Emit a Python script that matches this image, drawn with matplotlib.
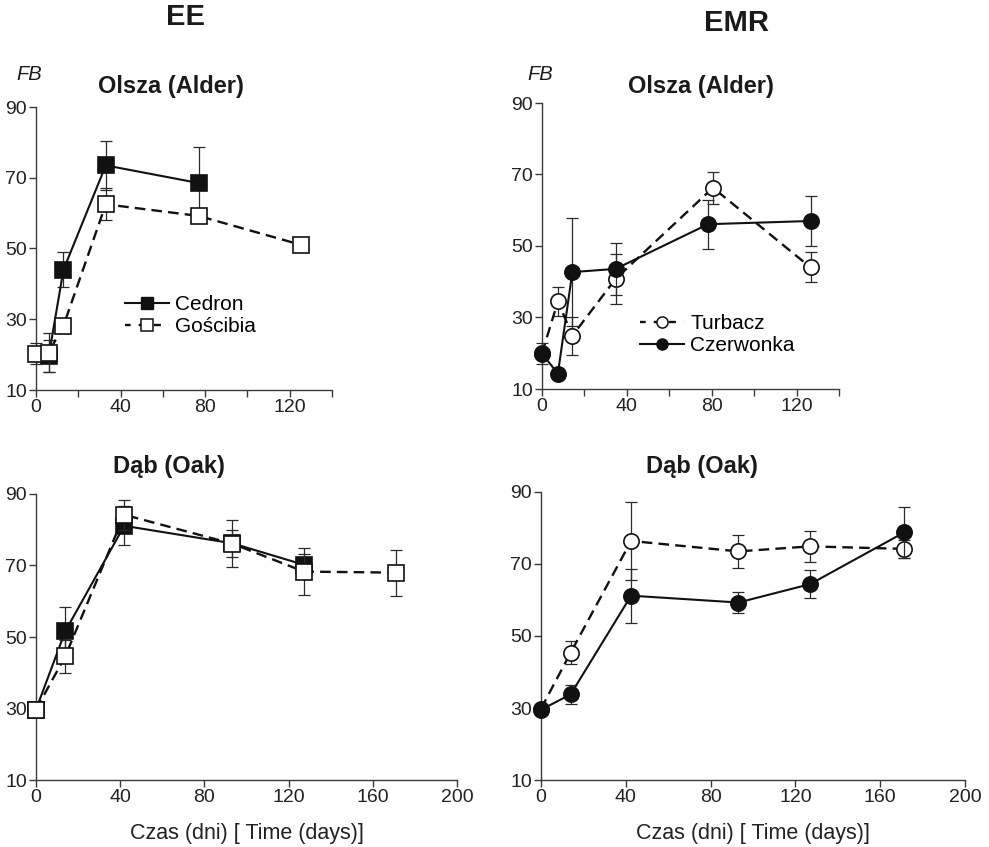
import matplotlib
matplotlib.use("Agg")
import matplotlib.pyplot as plt
from matplotlib.lines import Line2D

plt.rcParams['font.family'] = ['Liberation Sans', 'DejaVu Sans']

# ---- EE, Olsza (Alder) ----
ee_alder_cedron_x = [6, 13, 33, 77]
ee_alder_cedron_y = [19.5, 44.0, 73.5, 68.5]
ee_alder_cedron_err = [4.5, 5.0, 6.9, 10.2]

ee_alder_goscibia_x = [0, 6, 13, 33, 77, 125.5]
ee_alder_goscibia_y = [20.3, 20.6, 28.2, 62.5, 59.2, 51.0]
ee_alder_goscibia_err = [3.0, 5.5, 2.0, 4.5, 0.0, 0.0]

# ---- EMR, Olsza (Alder) ----
emr_alder_turbacz_x = [0, 7.5, 14.3, 34.7, 80.6, 126.6]
emr_alder_turbacz_y = [20.0, 34.5, 24.9, 40.8, 66.3, 44.0]
emr_alder_turbacz_err = [0.0, 4.0, 5.3, 6.9, 4.5, 4.2]

emr_alder_czerwonka_x = [0, 7.5, 14.3, 34.7, 78.3, 127.0]
emr_alder_czerwonka_y = [19.9, 14.3, 42.7, 43.6, 56.1, 57.0]
emr_alder_czerwonka_err = [2.9, 0.0, 15.0, 7.3, 6.9, 7.1]

# ---- EE, Dąb (Oak) ----
ee_oak_cedron_x = [0, 13.9, 41.9, 93.3, 127.3]
ee_oak_cedron_y = [29.7, 51.6, 81.1, 76.2, 70.2]
ee_oak_cedron_err = [0.0, 6.9, 5.5, 3.8, 3.0]

ee_oak_goscibia_x = [0, 13.9, 41.9, 93.3, 127.3, 171.2]
ee_oak_goscibia_y = [29.7, 44.6, 84.2, 76.1, 68.3, 68.0]
ee_oak_goscibia_err = [0.0, 4.6, 4.2, 6.6, 6.5, 6.4]

# ---- EMR, Dąb (Oak) ----
emr_oak_turbacz_x = [0, 14, 42.5, 93.1, 126.9, 171.4]
emr_oak_turbacz_y = [29.8, 45.4, 76.4, 73.5, 74.9, 74.2]
emr_oak_turbacz_err = [0.0, 3.3, 10.8, 4.5, 4.4, 2.6]

emr_oak_czerwonka_x = [0, 14, 42.5, 93.1, 126.9, 171.4]
emr_oak_czerwonka_y = [29.5, 33.8, 61.2, 59.3, 64.4, 78.8]
emr_oak_czerwonka_err = [1.5, 2.7, 7.5, 2.9, 3.8, 7.0]

y_ticks = [10, 30, 50, 70, 90]
top_x_ticks = [0, 20, 40, 60, 80, 100, 120, 140]
top_x_labels = ['0', '', '40', '', '80', '', '120', '']
bottom_x_ticks = [0, 40, 80, 120, 160, 200]

W, H = 989, 847
fig = plt.figure(figsize=(W / 100, H / 100), dpi=100)


def box(x0, y0, x1, y1):
    return [x0 / W, 1 - y1 / H, (x1 - x0) / W, (y1 - y0) / H]


ax_tl = fig.add_axes(box(36, 107, 332, 390))
ax_tr = fig.add_axes(box(542, 103, 839, 389))
ax_bl = fig.add_axes(box(36, 494, 457, 780))
ax_br = fig.add_axes(box(541, 492, 965, 780))

AX_COLOR = '#3a3a3a'
DASH = (0, (4.5, 2.6))
LEG_DASH = (0.6, (3.0, 3.4))
TICK_FS = 14


def series(ax, x, y, err, marker, filled, dashed, z):
    ax.errorbar(x, y, yerr=err, fmt='none', ecolor='#2a2a2a', elinewidth=0.9,
                capsize=4, capthick=0.9, zorder=z, clip_on=False)
    ax.plot(x, y, color='#111111', lw=1.5 if not dashed else 1.7,
            linestyle=DASH if dashed else '-', marker=marker, markersize=11,
            markerfacecolor='#111111' if filled else 'white',
            markeredgecolor='#111111', markeredgewidth=1.2, zorder=z + 1, clip_on=False)


def style(ax, xmax, xticks, xlabels):
    ax.set_xlim(0, xmax)
    ax.set_ylim(10, 90)
    ax.set_yticks(y_ticks)
    ax.set_xticks(xticks)
    ax.set_xticklabels(xlabels)
    for s in ('top', 'right'):
        ax.spines[s].set_visible(False)
    for s in ('left', 'bottom'):
        ax.spines[s].set_color(AX_COLOR)
        ax.spines[s].set_linewidth(1.0)
    ax.tick_params(axis='both', direction='out', length=5, width=1.0, color=AX_COLOR,
                   labelsize=TICK_FS, labelcolor='#222222', pad=1.5)


# Top-left: EE alder
series(ax_tl, ee_alder_cedron_x, ee_alder_cedron_y, ee_alder_cedron_err, 's', True, False, 2)
series(ax_tl, ee_alder_goscibia_x, ee_alder_goscibia_y, ee_alder_goscibia_err, 's', False, True, 4)
style(ax_tl, 140, top_x_ticks, top_x_labels)

# Top-right: EMR alder
series(ax_tr, emr_alder_turbacz_x, emr_alder_turbacz_y, emr_alder_turbacz_err, 'o', False, True, 2)
series(ax_tr, emr_alder_czerwonka_x, emr_alder_czerwonka_y, emr_alder_czerwonka_err, 'o', True, False, 4)
style(ax_tr, 140, top_x_ticks, top_x_labels)

# Bottom-left: EE oak
series(ax_bl, ee_oak_cedron_x, ee_oak_cedron_y, ee_oak_cedron_err, 's', True, False, 2)
series(ax_bl, ee_oak_goscibia_x, ee_oak_goscibia_y, ee_oak_goscibia_err, 's', False, True, 4)
style(ax_bl, 200, bottom_x_ticks, [str(t) for t in bottom_x_ticks])

# Bottom-right: EMR oak
series(ax_br, emr_oak_turbacz_x, emr_oak_turbacz_y, emr_oak_turbacz_err, 'o', False, True, 2)
series(ax_br, emr_oak_czerwonka_x, emr_oak_czerwonka_y, emr_oak_czerwonka_err, 'o', True, False, 4)
style(ax_br, 200, bottom_x_ticks, [str(t) for t in bottom_x_ticks])

for ax in (ax_bl, ax_br):
    ax.set_xlabel('Czas (dni) [ Time (days)]', fontsize=15.5, color='#222222', labelpad=12)

# Legends
LEG_MS = 8
h_ced = Line2D([], [], color='#111111', lw=1.5, marker='s', markersize=LEG_MS,
               markerfacecolor='#111111', markeredgecolor='#111111')
h_gos = Line2D([], [], color='#111111', lw=1.7, linestyle=LEG_DASH, marker='s',
               markersize=LEG_MS, markerfacecolor='white', markeredgecolor='#111111',
               markeredgewidth=1.1)
ax_tl.legend([h_ced, h_gos], ['Cedron', 'Gościbia'], loc='center left',
             bbox_to_anchor=(0.30, 0.263), frameon=False, fontsize=15, handlelength=2.1,
             handletextpad=0.3, labelspacing=0.15, borderpad=0, borderaxespad=0, numpoints=1)

h_tur = Line2D([], [], color='#111111', lw=1.7, linestyle=LEG_DASH, marker='o',
               markersize=LEG_MS, markerfacecolor='white', markeredgecolor='#111111',
               markeredgewidth=1.1)
h_cze = Line2D([], [], color='#111111', lw=1.5, marker='o', markersize=LEG_MS,
               markerfacecolor='#111111', markeredgecolor='#111111')
ax_tr.legend([h_tur, h_cze], ['Turbacz', 'Czerwonka'], loc='center left',
             bbox_to_anchor=(0.33, 0.19), frameon=False, fontsize=15, handlelength=2.1,
             handletextpad=0.3, labelspacing=0.15, borderpad=0, borderaxespad=0, numpoints=1)

# Headings and panel titles
def ftext(x, y, s, **kw):
    fig.text(x / W, 1 - y / H, s, ha='center', va='center', color='#1a1a1a', **kw)


ftext(186, 17, 'EE', fontsize=21, fontweight='bold')
ftext(737, 23, 'EMR', fontsize=21, fontweight='bold')
ftext(29, 75, 'FB', fontsize=14.5, style='italic')
ftext(540, 75, 'FB', fontsize=14.5, style='italic')
ftext(171, 86, 'Olsza (Alder)', fontsize=17, fontweight='bold')
ftext(701, 86, 'Olsza (Alder)', fontsize=17, fontweight='bold')
ftext(169, 466, 'Dąb (Oak)', fontsize=17, fontweight='bold')
ftext(702, 466, 'Dąb (Oak)', fontsize=17, fontweight='bold')

fig.savefig('out.png', dpi=100, facecolor='white')
